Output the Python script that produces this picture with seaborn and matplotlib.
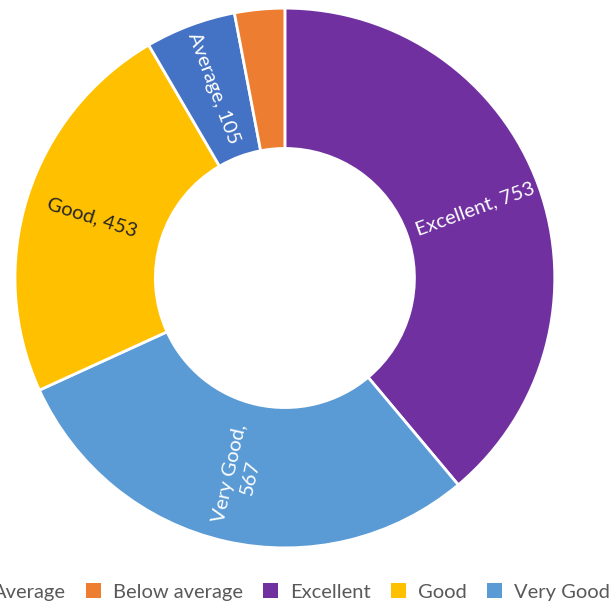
"""
Donut chart of ratings (Excellent / Very Good / Good / Average / Below average)
"""

import numpy as np
import matplotlib
matplotlib.use("Agg")
import matplotlib.pyplot as plt
import seaborn as sns
from matplotlib.patches import Patch

# datos
categories = ['Excellent', 'Very Good', 'Good', 'Average', 'Below average']
counts = [753, 567, 453, 105, 58]
slice_labels = ['Excellent, 753', 'Very Good,\n567', 'Good, 453', 'Average, 105', '']
legend_order = ['Average', 'Below average', 'Excellent', 'Good', 'Very Good']

colors = {
    'Excellent': '#7030A0',
    'Very Good': '#5B9BD5',
    'Good': '#FFC000',
    'Average': '#4472C4',
    'Below average': '#ED7D31',
}
text_colors = {
    'Excellent': 'white',
    'Very Good': 'white',
    'Good': '#262626',
    'Average': 'white',
    'Below average': 'white',
}

sns.set_style('white')
plt.rcParams['font.family'] = ['Lato', 'DejaVu Sans']

fig = plt.figure(figsize=(6.12, 6.04), dpi=100)
ax = fig.add_axes([0.0245, 0.0927, 0.882, 0.894])

palette = sns.color_palette([colors[c] for c in categories])
wedges, _ = ax.pie(
    counts, colors=palette, startangle=90, counterclock=False,
    radius=1.0, wedgeprops=dict(width=0.52, edgecolor='white', linewidth=2),
)

# etiquetas radiales
r_lab = 0.75
for w, lab, cat in zip(wedges, slice_labels, categories):
    if not lab:
        continue
    theta = np.deg2rad((w.theta1 + w.theta2) / 2)
    x, y = r_lab * np.cos(theta), r_lab * np.sin(theta)
    rot = np.rad2deg(theta)
    rot = (rot + 180) % 360 - 180
    if rot > 90:
        rot -= 180
    elif rot < -90:
        rot += 180
    ax.text(x, y, lab, ha='center', va='center', rotation=rot,
            rotation_mode='anchor', multialignment='center',
            color=text_colors[cat], fontsize=14.5, linespacing=1.3)

ax.set_xlim(-1, 1)
ax.set_ylim(-1, 1)
ax.set_aspect('equal')
ax.axis('off')

handles = [Patch(facecolor=colors[c], edgecolor='none', label=c) for c in legend_order]
fig.legend(handles=handles, loc='center', bbox_to_anchor=(0.47, 0.02), ncol=5,
           frameon=False, fontsize=14.5, handlelength=0.75, handleheight=0.75,
           handletextpad=0.6, columnspacing=1.0, labelcolor='#595959')

fig.savefig('out.png', dpi=100)
